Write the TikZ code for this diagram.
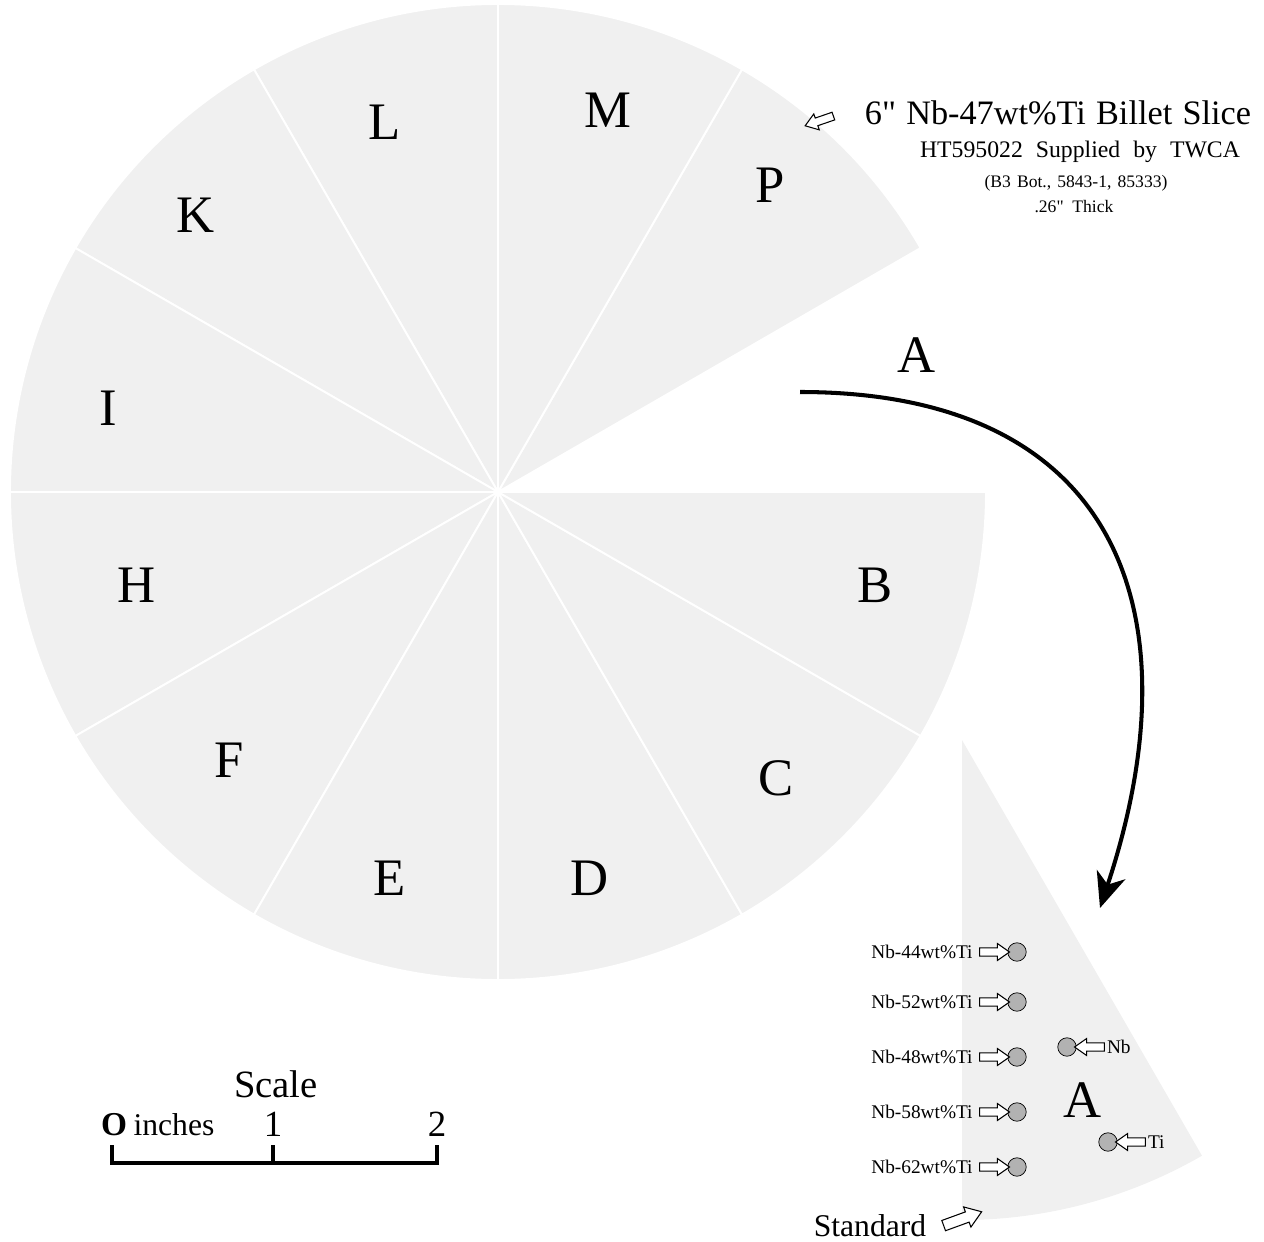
\documentclass[tikz,border=0pt]{standalone}
\usepackage{fontspec}
\setmainfont{Liberation Serif}[Ligatures=TeXOff]
\usetikzlibrary{arrows.meta,positioning,shapes.arrows}
\definecolor{slicegray}{gray}{0.94}
\definecolor{dotgray}{gray}{0.70}

\begin{document}
\begin{tikzpicture}[x=0.02cm,y=0.02cm,
		slice/.style={fill=slicegray,draw=white,line width=1.1pt},
		letter/.style={font=\fontsize{30}{32}\selectfont},
		sample/.style={circle,draw=black,fill=dotgray,thin,
			minimum size=10.5pt,inner sep=0pt},
		blockarrow/.style={single arrow,draw=black,fill=white,line width=0.6pt,
			minimum height=17pt,inner sep=2pt,single arrow head extend=2.5pt,
			single arrow tip angle=70},
		comp/.style={font=\fontsize{11}{12}\selectfont,inner sep=1pt},
		bar/.style={line width=2.3pt}]
	
	\useasboundingbox (-498,-749) rectangle (766,492);
	
	% the slice, with sector A cut out
	\foreach \a in {30,60,...,330}
		\path[slice] (0,0) -- (\a:488) arc (\a:\a+30:488) -- cycle;
	
	\node[letter] (P) at (272,307) {P};
	\node[letter] (M) at (110,382) {M};
	\node[letter] (L) at (-113,370) {L};
	\node[letter] (K) at (-302,277) {K};
	\node[letter] (I) at (-390,84) {I};
	\node[letter] (H) at (-361,-93) {H};
	\node[letter] (F) at (-269,-268) {F};
	\node[letter] (E) at (-108,-386) {E};
	\node[letter] (D) at (92,-386) {D};
	\node[letter] (C) at (278,-286) {C};
	\node[letter] (B) at (377,-93) {B};
	
	% heading
	\node[blockarrow,rotate=199] (slicearrow) at (324,372) {};
	\node[font=\fontsize{19.5}{22}\selectfont] (title) at (560,379)
		{\spaceskip=0.3em 6" Nb-47wt\%Ti Billet Slice};
	\node[font=\fontsize{13.5}{15}\selectfont] (heat) at (582,340)
		{\spaceskip=0.55em HT595022 Supplied by TWCA};
	\node[font=\fontsize{10}{12}\selectfont] (billet) at (578,309)
		{\spaceskip=0.35em (B3 Bot., 5843-1, 85333)};
	\node[font=\fontsize{10}{12}\selectfont] (thick) at (576,285)
		{\spaceskip=0.5em .26" Thick};
	
	% sector A moved out
	\coordinate (apex) at (464,-248);
	\path[fill=slicegray] (apex) -- ++(-90:480) arc (-90:-60:480) -- cycle;
	\node[letter] (labA) at (419,137) {A};
	\node[letter] (secA) at (585,-608) {A};
	\coordinate (from) at (302,100);
	\coordinate (to) at (602,-416);
	\draw[line width=2.3pt,-{Stealth[length=20pt,width=17pt,inset=6pt]}]
		(from) .. controls (620,100) and (700,-120) .. (to);
	
	\foreach \c/\y in {44/-460,52/-510,48/-565,58/-620,62/-675} {
		\node[sample] (s\c) at (519,\y) {};
		\node[blockarrow,left=-1.7pt of s\c] (a\c) {};
		\node[comp,left=2.5pt of a\c] (t\c) {Nb-\c wt\%Ti};
	}
	\node[sample] (sNb) at (569,-555) {};
	\node[blockarrow,shape border rotate=180,right=-1.7pt of sNb] (aNb) {};
	\node[comp,right=0pt of aNb] (tNb) {Nb};
	\node[sample] (sTi) at (610,-650) {};
	\node[blockarrow,shape border rotate=180,right=-1.7pt of sTi] (aTi) {};
	\node[comp,right=0pt of aTi] (tTi) {Ti};
	
	\node[blockarrow,rotate=20,minimum height=23pt,inner sep=2.8pt,
		single arrow head extend=3pt] (stdarrow) at (461,-728) {};
	\node[font=\fontsize{18}{20}\selectfont] (std) at (372,-734) {Standard};
	
	% scale bar
	\coordinate (b0) at (-386,-671);
	\coordinate (b1) at (-225,-671);
	\coordinate (b2) at (-61,-671);
	\draw[bar] (b0) ++(0,18) -- (b0) -- (b2) -- ++(0,18);
	\draw[bar] (b1) -- ++(0,18);
	\node[font=\fontsize{22}{24}\selectfont] (scale) at (-222,-592) {Scale};
	\node[font=\fontsize{19}{20}\selectfont] (zero) at (-384,-633) {\textbf{O}};
	\node[font=\fontsize{18}{20}\selectfont] (inch) at (-324,-633) {inches};
	\node[font=\fontsize{21}{22}\selectfont] (one) at (-225,-632) {1};
	\node[font=\fontsize{21}{22}\selectfont] (two) at (-61,-632) {2};
\end{tikzpicture}
\end{document}
